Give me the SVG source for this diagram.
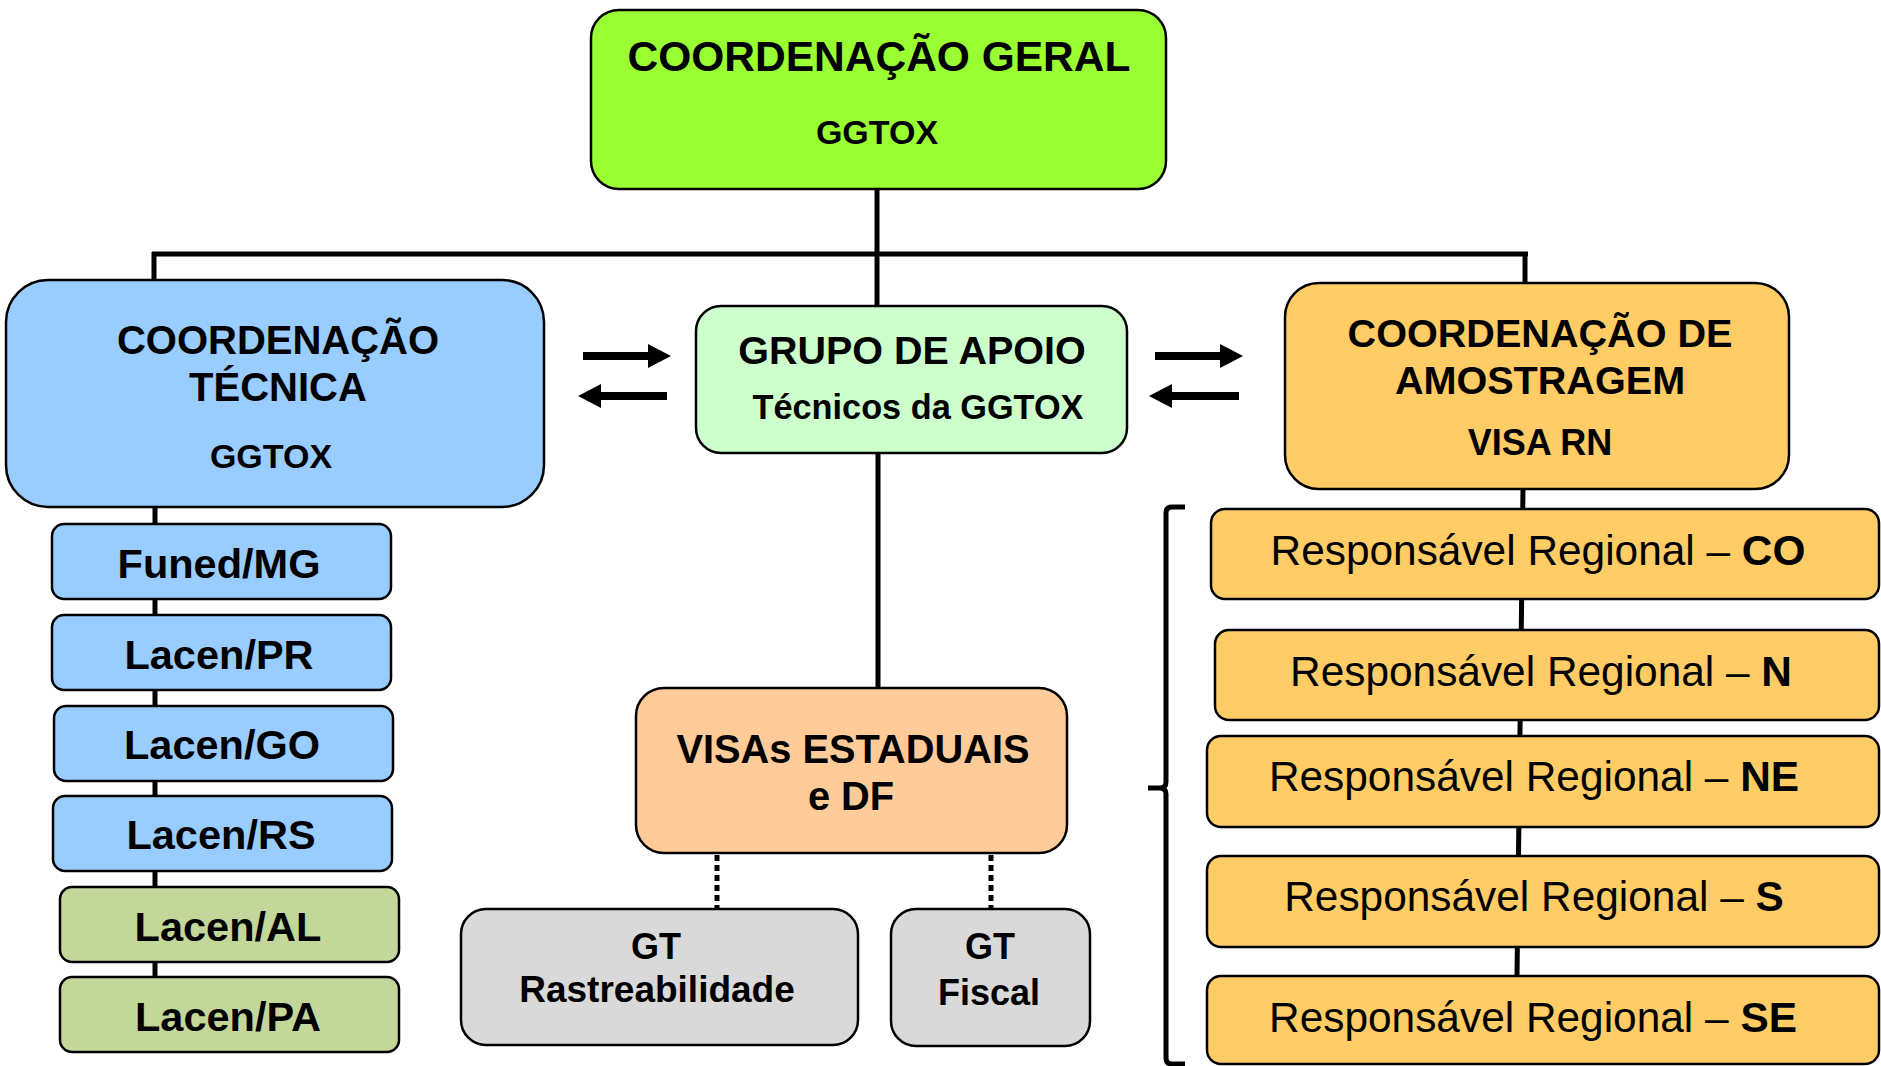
<svg xmlns="http://www.w3.org/2000/svg" width="1881" height="1066" viewBox="0 0 1881 1066">
<style>
.box{stroke:#000;stroke-width:2.5}
.t{font-family:"Liberation Sans",Arial,sans-serif;fill:#000;text-anchor:middle}
.b{font-weight:bold}
.ln{stroke:#000;stroke-width:5;fill:none}
.dot{stroke:#000;stroke-width:5;stroke-dasharray:6 4;fill:none}
.arr{stroke:#000;stroke-width:8;fill:none}
</style>
<defs>
<marker id="ah" markerUnits="userSpaceOnUse" markerWidth="24" markerHeight="26" refX="0" refY="12" orient="auto">
<path d="M0,0 L23,12 L0,24 z" fill="#000"/>
</marker>
</defs>
<rect width="1881" height="1066" fill="#fff"/>
<g id="connectors">
<line class="ln" x1="152" y1="254" x2="1528" y2="254"/>
<line class="ln" x1="154" y1="252" x2="154" y2="281"/>
<line class="ln" x1="1525" y1="252" x2="1525" y2="284"/>
<line class="ln" x1="877" y1="189" x2="877" y2="307"/>
<line class="ln" x1="878" y1="453" x2="878" y2="688"/>
<line class="ln" x1="155" y1="507" x2="155" y2="979"/>
<line class="ln" x1="1523" y1="488" x2="1517" y2="976"/>
<line class="dot" x1="717" y1="855" x2="717" y2="909"/>
<line class="dot" x1="991" y1="855" x2="991" y2="909"/>
<path class="ln" d="M1185,507 H1172 Q1166,507 1166,513 V782 Q1166,788 1160,788 H1148 M1160,788 Q1166,788 1166,794 V1058 Q1166,1064 1172,1064 H1185"/>
<line class="arr" x1="583" y1="356" x2="648" y2="356" marker-end="url(#ah)"/>
<line class="arr" x1="667" y1="396" x2="601" y2="396" marker-end="url(#ah)"/>
<line class="arr" x1="1155" y1="356" x2="1220" y2="356" marker-end="url(#ah)"/>
<line class="arr" x1="1239" y1="396" x2="1172" y2="396" marker-end="url(#ah)"/>
</g>
<g id="coord-geral">
<rect class="box" x="591" y="10" width="575" height="179" rx="28" fill="#99FF33"/>
<text class="t b" x="879" y="71" font-size="42.5">COORDENAÇÃO GERAL</text>
<text class="t b" x="877" y="144" font-size="34">GGTOX</text>
</g>
<g id="coord-tecnica">
<rect class="box" x="6" y="280" width="538" height="227" rx="42" fill="#99CCFF"/>
<text class="t b" x="278" y="354" font-size="40">COORDENAÇÃO</text>
<text class="t b" x="278" y="401" font-size="40">TÉCNICA</text>
<text class="t b" x="271" y="468" font-size="34">GGTOX</text>
</g>
<g id="grupo-apoio">
<rect class="box" x="696" y="306" width="431" height="147" rx="25" fill="#CCFFCC"/>
<text class="t b" x="912" y="364" font-size="39.5">GRUPO DE APOIO</text>
<text class="t b" x="918" y="419" font-size="34.3">Técnicos da GGTOX</text>
</g>
<g id="coord-amostragem">
<rect class="box" x="1285" y="283" width="504" height="206" rx="34" fill="#FFCC66"/>
<text class="t b" x="1540" y="347" font-size="39.6">COORDENAÇÃO DE</text>
<text class="t b" x="1540" y="394" font-size="39.6">AMOSTRAGEM</text>
<text class="t b" x="1540" y="455" font-size="36">VISA RN</text>
</g>
<g id="visas">
<rect class="box" x="636" y="688" width="431" height="165" rx="28" fill="#FFCC99"/>
<text class="t b" x="853" y="763" font-size="39.8">VISAs ESTADUAIS</text>
<text class="t b" x="851" y="810" font-size="39.8">e DF</text>
</g>
<g id="gt-rastreabilidade">
<rect class="box" x="461" y="909" width="397" height="136" rx="25" fill="#D9D9D9"/>
<text class="t b" x="656" y="959" font-size="36">GT</text>
<text class="t b" x="657" y="1002" font-size="37">Rastreabilidade</text>
</g>
<g id="gt-fiscal">
<rect class="box" x="891" y="909" width="199" height="137" rx="25" fill="#D9D9D9"/>
<text class="t b" x="990" y="959" font-size="36">GT</text>
<text class="t b" x="989" y="1005" font-size="36">Fiscal</text>
</g>
<g id="funed-mg">
<rect class="box" x="52" y="524" width="339" height="75" rx="12" fill="#99CCFF"/>
<text class="t b" x="219" y="578" font-size="41.5">Funed/MG</text>
</g>
<g id="lacen-pr">
<rect class="box" x="52" y="615" width="339" height="75" rx="12" fill="#99CCFF"/>
<text class="t b" x="219" y="669" font-size="41.5">Lacen/PR</text>
</g>
<g id="lacen-go">
<rect class="box" x="54" y="706" width="339" height="75" rx="12" fill="#99CCFF"/>
<text class="t b" x="222" y="759" font-size="41.5">Lacen/GO</text>
</g>
<g id="lacen-rs">
<rect class="box" x="53" y="796" width="339" height="75" rx="12" fill="#99CCFF"/>
<text class="t b" x="221" y="849" font-size="41.5">Lacen/RS</text>
</g>
<g id="lacen-al">
<rect class="box" x="60" y="887" width="339" height="75" rx="12" fill="#C4D79B"/>
<text class="t b" x="228" y="941" font-size="41.5">Lacen/AL</text>
</g>
<g id="lacen-pa">
<rect class="box" x="60" y="977" width="339" height="75" rx="12" fill="#C4D79B"/>
<text class="t b" x="228" y="1031" font-size="41.5">Lacen/PA</text>
</g>
<g id="resp-co">
<rect class="box" x="1211" y="509" width="668" height="90" rx="14" fill="#FFCC66"/>
<text class="t" x="1538" y="565" font-size="42.4">Responsável Regional – <tspan class="b">CO</tspan></text>
</g>
<g id="resp-n">
<rect class="box" x="1215" y="630" width="664" height="90" rx="14" fill="#FFCC66"/>
<text class="t" x="1541" y="686" font-size="42.4">Responsável Regional – <tspan class="b">N</tspan></text>
</g>
<g id="resp-ne">
<rect class="box" x="1207" y="736" width="672" height="91" rx="14" fill="#FFCC66"/>
<text class="t" x="1534" y="791" font-size="42.4">Responsável Regional – <tspan class="b">NE</tspan></text>
</g>
<g id="resp-s">
<rect class="box" x="1207" y="856" width="672" height="91" rx="14" fill="#FFCC66"/>
<text class="t" x="1534" y="911" font-size="42.4">Responsável Regional – <tspan class="b">S</tspan></text>
</g>
<g id="resp-se">
<rect class="box" x="1207" y="976" width="672" height="88" rx="14" fill="#FFCC66"/>
<text class="t" x="1533" y="1032" font-size="42.4">Responsável Regional – <tspan class="b">SE</tspan></text>
</g>
</svg>
